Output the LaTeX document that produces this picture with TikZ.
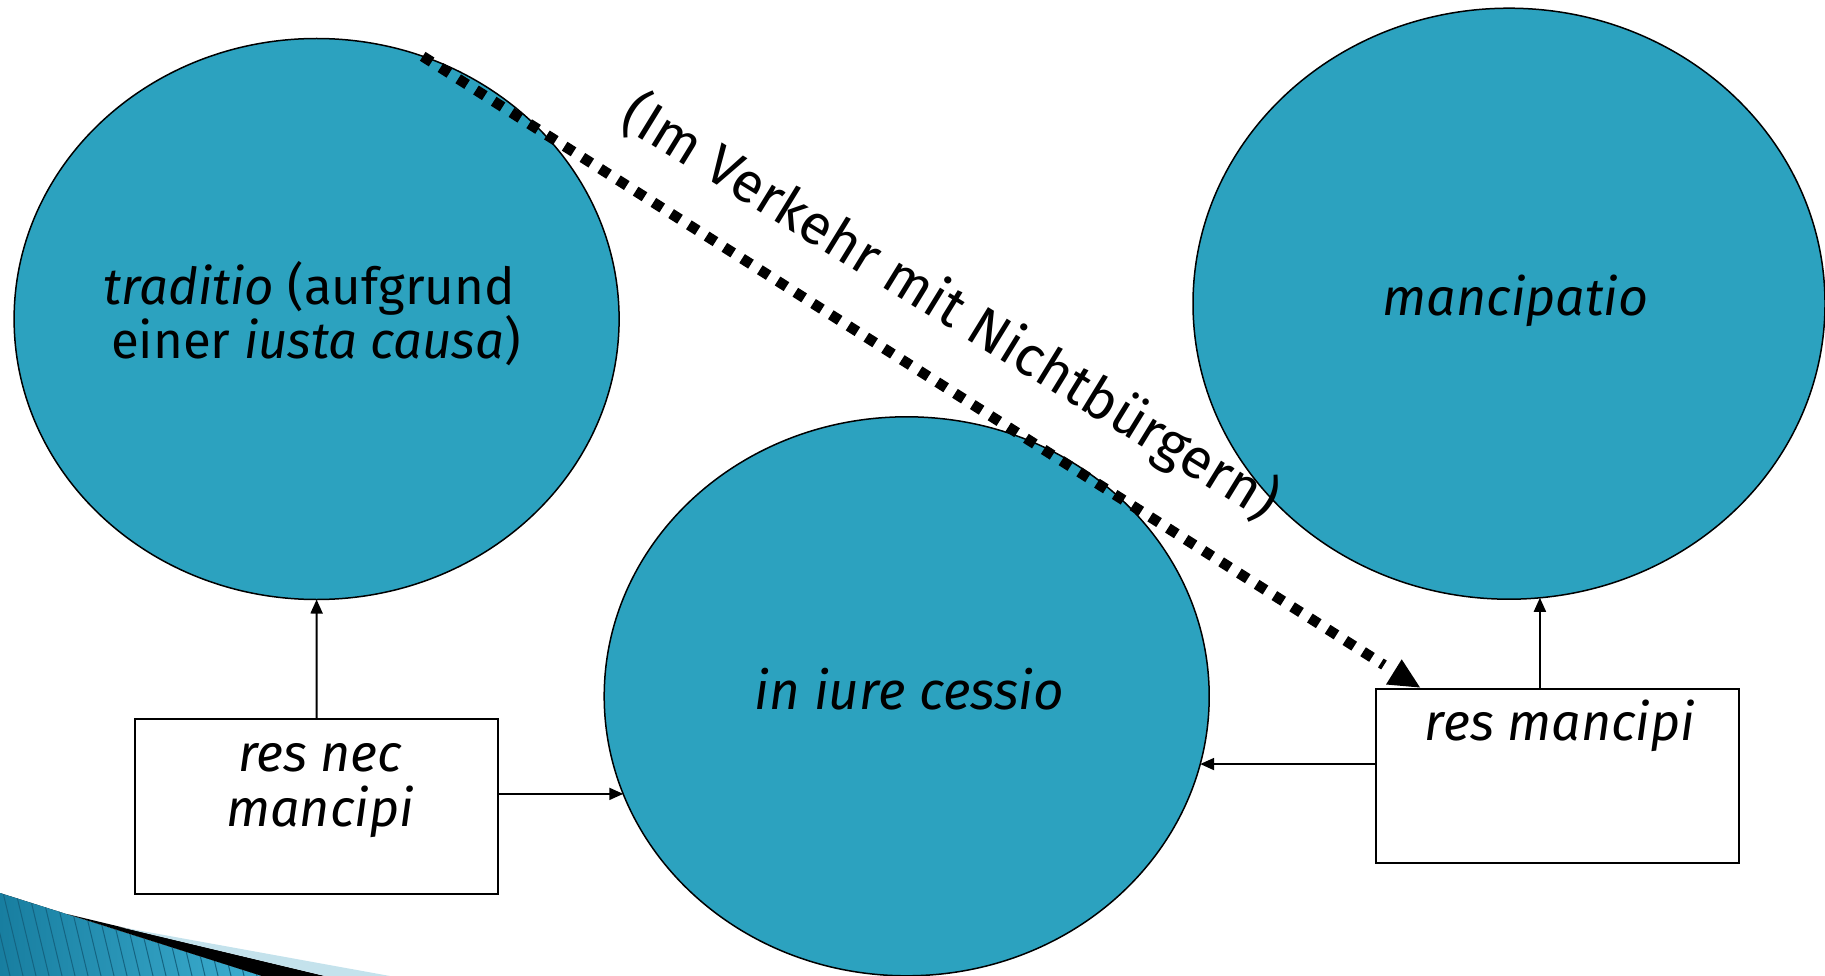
\documentclass[tikz,border=0pt]{standalone}
\usepackage{fontspec}
\setmainfont{Fira Sans}
\usetikzlibrary{arrows.meta,shapes.geometric}
\definecolor{ellfill}{RGB}{44,162,191}
\definecolor{swdark}{RGB}{24,126,160}
\definecolor{swlight}{RGB}{62,176,210}
\definecolor{swline}{RGB}{20,100,130}
\definecolor{lightband}{RGB}{196,226,236}
\begin{document}
\begin{tikzpicture}[x=1pt,y=-1pt,
  ell/.style={ellipse, draw=black, line width=1.5pt, fill=ellfill, inner sep=0pt, outer sep=0pt},
  box/.style={rectangle, draw=black, line width=2pt, fill=white, inner sep=0pt, outer sep=0pt},
  conn/.style={line width=2pt, -{Triangle[length=14pt,width=12pt]}},
  lbl/.style={font=\fontsize{51}{56}\selectfont, inner sep=0pt, anchor=base},
  ilbl/.style={lbl, font=\fontsize{52}{56}\selectfont\itshape},
  dotline/.style={line width=10.5pt, dash pattern=on 10.5pt off 10.5pt},
]
\useasboundingbox (0,0) rectangle (1825,976);

% ellipses
\node[ell, minimum width=605pt, minimum height=561pt] (trad) at (316.6,319) {};
\node[ell, minimum width=605pt, minimum height=559pt] (mid) at (906.7,696.3) {};
\node[ell, minimum width=632pt, minimum height=591pt] (manc) at (1509,303.7) {};

% ellipse texts
\node[lbl] (tradA) at (309,305) {\textit{traditio} (aufgrund};
\node[lbl] (tradB) at (316,358) {einer \textit{iusta causa})};
\node[ilbl, font=\fontsize{53}{56}\selectfont\itshape] (midT) at (909.6,709) {in iure cessio};
\node[ilbl] (mancT) at (1515.5,315) {mancipatio};

% boxes
\node[box, minimum width=363pt, minimum height=175pt] (nec) at (316.5,806.5) {};
\node[box, minimum width=363pt, minimum height=174pt] (mbox) at (1557.5,775.9) {};
\node[ilbl] (necA) at (320,771.6) {res nec};
\node[ilbl] (necB) at (320,826) {mancipi};
\node[ilbl] (mboxT) at (1560,740) {res mancipi};

% connectors
\draw[conn] (nec.north) -- (trad.south);
\draw[conn] (nec.east |- mid.199.4) -- (mid.199.4);
\draw[conn] (mbox.west |- mid.347) -- (mid.347);
\draw[conn] (mbox.north -| manc.276.4) -- (manc.276.4);

% dotted connector
\coordinate (dotend) at (1384,665);
\draw[dotline] (trad.68.4) -- (dotend);
\fill (1401.7,659.3) -- (1386,684.5) -- (1420,687.5) -- cycle;

% rotated label
\node[font=\fontsize{56}{60}\selectfont, rotate=-31.6, inner sep=0pt] (note) at (950,308) {(Im Verkehr mit Nichtbürgern)};

% bottom-left decoration
\begin{scope}
  \clip (0,893) -- (262,976) -- (0,976) -- cycle;
  \fill[left color=swdark, right color=swlight] (0,880) rectangle (270,976);
  \foreach \i in {-10,...,22} \draw[swline, line width=1pt] (\i*13,880) -- ++(24,100);
\end{scope}
\fill[black] (67,914) -- (325,976) -- (262,976) -- cycle;
\fill[lightband] (120,927) -- (390,976) -- (325,976) -- cycle;
\end{tikzpicture}
\end{document}
